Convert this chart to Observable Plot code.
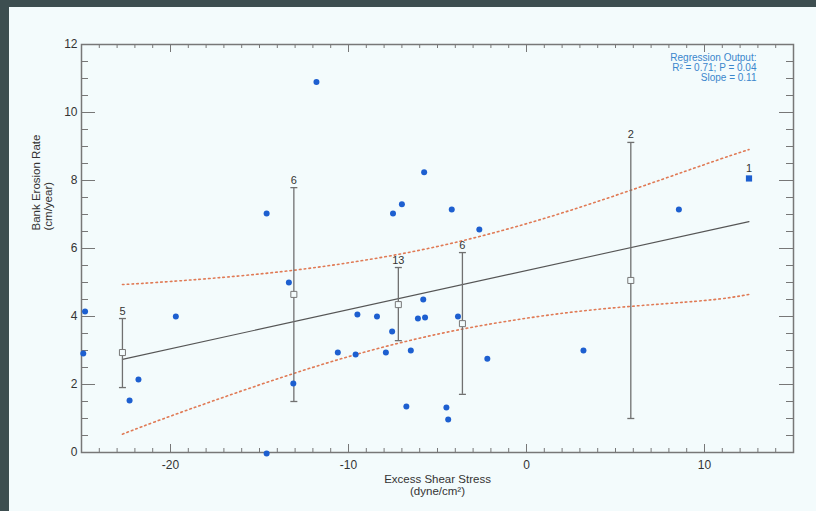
<!DOCTYPE html>
<html><head><meta charset="utf-8">
<script src="https://cdn.jsdelivr.net/npm/d3@7"></script>
<script src="https://cdn.jsdelivr.net/npm/@observablehq/plot@0.6"></script>
<style>
html,body{margin:0;padding:0;background:#3d4e50;width:816px;height:511px;overflow:hidden;}
#wrap{position:absolute;left:9px;top:7px;width:807px;height:504px;background:#f3fbfc;}
</style></head><body><div id="wrap"></div>
<script>
// Individual observations
const pointsX = [-24.9,-24.8,-22.3,-21.8,-19.7,-14.6,-14.6,-13.35,-13.1,-11.8,-10.6,-9.6,-9.5,-8.4,-7.9,-7.55,-7.5,-7.0,-6.75,-6.5,-6.1,-5.8,-5.7,-5.75,-4.5,-4.4,-4.2,-3.85,-2.65,-2.2,3.2,8.56];
const pointsY = [2.91,4.15,1.53,2.15,4.0,-0.03,7.03,5.0,2.03,10.9,2.94,2.88,4.06,4.0,2.94,3.56,7.03,7.3,1.35,3.0,3.94,4.5,3.97,8.24,1.32,0.97,7.15,4.0,6.56,2.76,3.0,7.15];
// Binned means with ranges and counts
const binX = [-22.7,-13.07,-7.2,-3.6,5.86];
const binMean = [2.94,4.65,4.35,3.79,5.06];
const binLow = [1.91,1.5,3.29,1.71,1.0];
const binHigh = [3.94,7.79,5.44,5.88,9.12];
const binN = [5,6,13,6,2];
const singleX = [12.5];
const singleY = [8.06];
const singleN = [1];
// Regression line and confidence band
const regX = [-22.7,12.5];
const regY = [2.74,6.79];
const bandX = [-22.7,-20,-15,-10,-5,0,5,10,12.5];
const bandUpper = [4.94,5.03,5.25,5.58,6.06,6.73,7.56,8.47,8.91];
const bandLower = [0.54,1.07,1.99,2.82,3.48,3.95,4.26,4.47,4.65];
// Ticks
const xMajor = [-20,-10,0,10];
const xMinor = d3.range(-25,16,1).filter(v => v % 10 !== 0);
const yMajor = [0,2,4,6,8,10,12];
const yMinor = d3.range(0,12.01,0.5).filter(v => v % 2 !== 0);
const regText = "Regression Output:\nR² = 0.71; P = 0.04\nSlope = 0.11";
const xTitle = "Excess Shear Stress\n(dyne/cm²)";
const yTitle = "Bank Erosion Rate\n(cm/year)";

const points = pointsX.map((x,i) => ({x, y: pointsY[i]}));
const bins = binX.map((x,i) => ({x, mean: binMean[i], lo: binLow[i], hi: binHigh[i], n: binN[i]}));
const single = singleX.map((x,i) => ({x, y: singleY[i], n: singleN[i]}));
const reg = regX.map((x,i) => ({x, y: regY[i]}));
const band = bandX.map((x,i) => ({x, up: bandUpper[i], lo: bandLower[i]}));

const W = 807, H = 504, mL = 72, mR = 23, mT = 37, mB = 59;
const iW = W - mL - mR, iH = H - mT - mB;
const axisColor = "#777";
const cap = {draw(ctx, size){ const r = Math.sqrt(size/Math.PI); ctx.moveTo(-r,0); ctx.lineTo(r,0); }};

const chart = Plot.plot({
  width: W, height: H,
  marginLeft: mL, marginRight: mR, marginTop: mT, marginBottom: mB,
  style: {background: "transparent", fontFamily: "Liberation Sans, Arial, sans-serif"},
  x: {domain: [-25,15]},
  y: {domain: [0,12]},
  marks: [
    // ticks (inward)
    Plot.ruleX(xMinor, {x: d=>d, insetTop: iH-4, stroke: axisColor, strokeWidth: 1}),
    Plot.ruleX(xMajor, {x: d=>d, insetTop: iH-8, stroke: axisColor, strokeWidth: 1}),
    Plot.ruleX(xMinor, {x: d=>d, insetBottom: iH-4, stroke: axisColor, strokeWidth: 1}),
    Plot.ruleX(xMajor, {x: d=>d, insetBottom: iH-8, stroke: axisColor, strokeWidth: 1}),
    Plot.ruleY(yMinor, {y: d=>d, insetRight: iW-7, stroke: axisColor, strokeWidth: 1}),
    Plot.ruleY(yMajor, {y: d=>d, insetRight: iW-14, stroke: axisColor, strokeWidth: 1}),
    Plot.ruleY(yMinor, {y: d=>d, insetLeft: iW-7, stroke: axisColor, strokeWidth: 1}),
    Plot.ruleY(yMajor, {y: d=>d, insetLeft: iW-14, stroke: axisColor, strokeWidth: 1}),
    Plot.frame({stroke: axisColor, strokeWidth: 1.5}),
    Plot.axisX({ticks: xMajor, tickSize: 0, tickPadding: 8, fontSize: 12, color: "#333", label: null, tickFormat: d => d}),
    Plot.axisY({ticks: yMajor, tickSize: 0, tickPadding: 4, fontSize: 12, color: "#333", label: null}),
    // confidence band
    Plot.line(band, {x: "x", y: "up", curve: "natural", stroke: "#e07a55", strokeWidth: 1.6, strokeDasharray: "1.6,3.2"}),
    Plot.line(band, {x: "x", y: "lo", curve: "natural", stroke: "#e07a55", strokeWidth: 1.6, strokeDasharray: "1.6,3.2"}),
    // regression
    Plot.line(reg, {x: "x", y: "y", stroke: "#555", strokeWidth: 1.1}),
    // error bars
    Plot.ruleX(bins, {x: "x", y1: "lo", y2: "hi", stroke: "#707070", strokeWidth: 1.3}),
    Plot.dot(bins, {x: "x", y: "hi", symbol: cap, r: 3.5, stroke: "#707070", fill: "none", strokeWidth: 1.3}),
    Plot.dot(bins, {x: "x", y: "lo", symbol: cap, r: 3.5, stroke: "#707070", fill: "none", strokeWidth: 1.3}),
    // points
    Plot.dot(points, {x: "x", y: "y", r: 3, fill: "#1d5fd0", stroke: "none"}),
    Plot.dot(bins, {x: "x", y: "mean", symbol: "square", r: 3.4, stroke: "#777", fill: "#f3fbfc", strokeWidth: 1}),
    Plot.dot(single, {x: "x", y: "y", symbol: "square", r: 3.5, fill: "#1d5fd0", stroke: "none"}),
    // count labels
    Plot.text(bins, {x: "x", y: "hi", text: d => String(d.n), lineAnchor: "bottom", dy: -4, fontSize: 11, fill: "#333"}),
    Plot.text(single, {x: "x", y: "y", text: d => String(d.n), lineAnchor: "bottom", dy: -6, fontSize: 11, fill: "#333"}),
    // regression output
    Plot.text([regText], {frameAnchor: "top-right", text: d => d, textAnchor: "end", lineAnchor: "top", dx: -37, dy: 9, fontSize: 10, lineHeight: 1.02, fill: "#3a86cc"}),
    // axis titles
    Plot.text([xTitle], {frameAnchor: "bottom", text: d => d, lineAnchor: "top", dy: 22, fontSize: 11.5, lineHeight: 1.05, fill: "#333"}),
    Plot.text([yTitle], {frameAnchor: "left", text: d => d, rotate: -90, lineAnchor: "middle", dx: -39, dy: -18, fontSize: 11.5, lineHeight: 1.0, fill: "#333"})
  ]
});
document.getElementById("wrap").appendChild(chart);
</script>
</body></html>
